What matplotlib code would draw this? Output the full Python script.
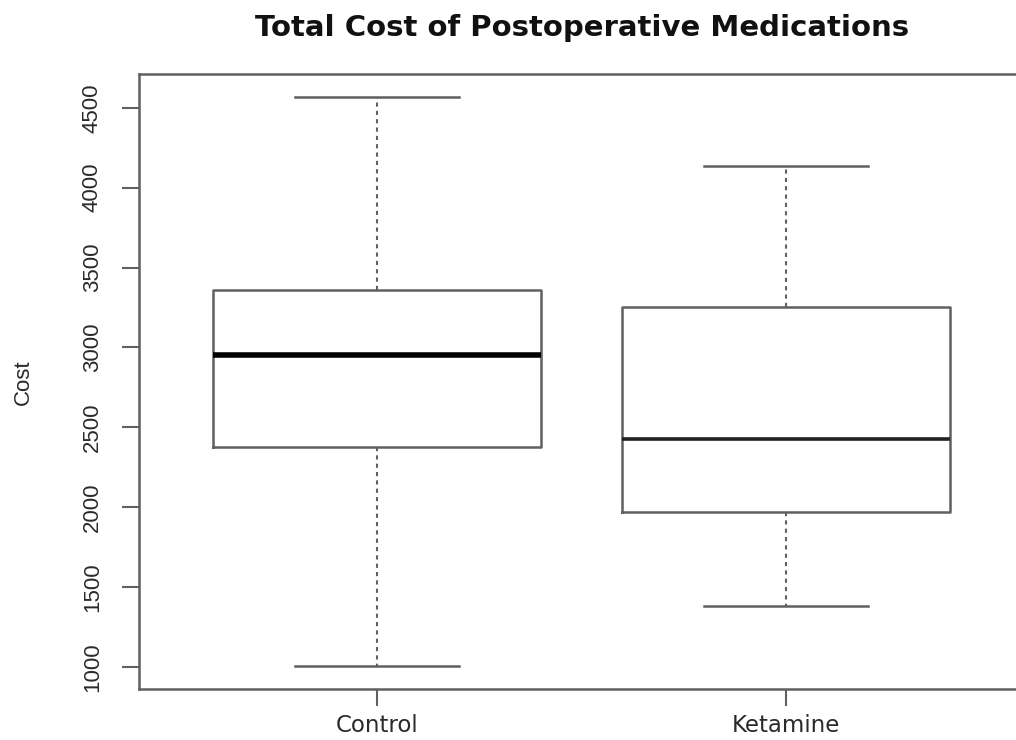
import matplotlib
matplotlib.use('Agg')
import matplotlib.pyplot as plt

groups = ['Control', 'Ketamine']
whislo = [1005, 1382]
q1 = [2378, 1971]
med = [2954, 2428]
q3 = [3361, 3254]
whishi = [4569, 4137]
yticks = [1000, 1500, 2000, 2500, 3000, 3500, 4000, 4500]

plt.rcParams['font.family'] = ['DejaVu Sans']
narrow = ['Liberation Sans', 'DejaVu Sans']

fig = plt.figure(figsize=(10.16, 7.40), dpi=100)
ax = fig.add_axes([139 / 1016, 1 - 689 / 740, (1024 - 139) / 1016, (689 - 74) / 740])

stats = [dict(label=g, whislo=a, q1=b, med=c, q3=d, whishi=e, fliers=[])
         for g, a, b, c, d, e in zip(groups, whislo, q1, med, q3, whishi)]

grey = '#606060'
parts = ax.bxp(stats, positions=[1, 2], widths=0.8, capwidths=0.4, showfliers=False,
               boxprops=dict(color=grey, linewidth=1.8),
               medianprops=dict(color='black', linewidth=4, solid_capstyle='butt'),
               whiskerprops=dict(color=grey, linewidth=1.5, linestyle=(0, (2, 2))),
               capprops=dict(color=grey, linewidth=1.8))
# second median comes out thinner in the original
parts['medians'][1].set_linewidth(2.6)
parts['medians'][1].set_color('#222222')

# R style axis extension (4%)
lo, hi = min(whislo), max(whishi)
pad = 0.04 * (hi - lo)
ax.set_ylim(lo - pad, hi + pad)
ax.set_xlim(0.42, 2.58)

ax.set_yticks(yticks)
ax.set_yticklabels([str(t) for t in yticks], rotation=90, va='center',
                   fontsize=16, family=narrow, color='#2a2a2a')
ax.set_xticks([1, 2])
ax.set_xticklabels(groups, fontsize=16.5, color='#2a2a2a')
ax.tick_params(direction='out', length=12, width=1.5, color=grey)
ax.tick_params(axis='y', pad=14)
ax.tick_params(axis='x', pad=6)

for s in ax.spines.values():
    s.set_color(grey)
    s.set_linewidth(1.8)

fig.text(23 / 1016, 1 - 382 / 740, 'Cost', rotation=90, ha='center', va='center',
         fontsize=16, family=narrow, color='#2a2a2a')
fig.text(582 / 1016, 1 - 28 / 740, 'Total Cost of Postoperative Medications',
         ha='center', va='center', fontsize=21, fontweight='bold', color='#111111')

fig.savefig('out.png', dpi=100)
